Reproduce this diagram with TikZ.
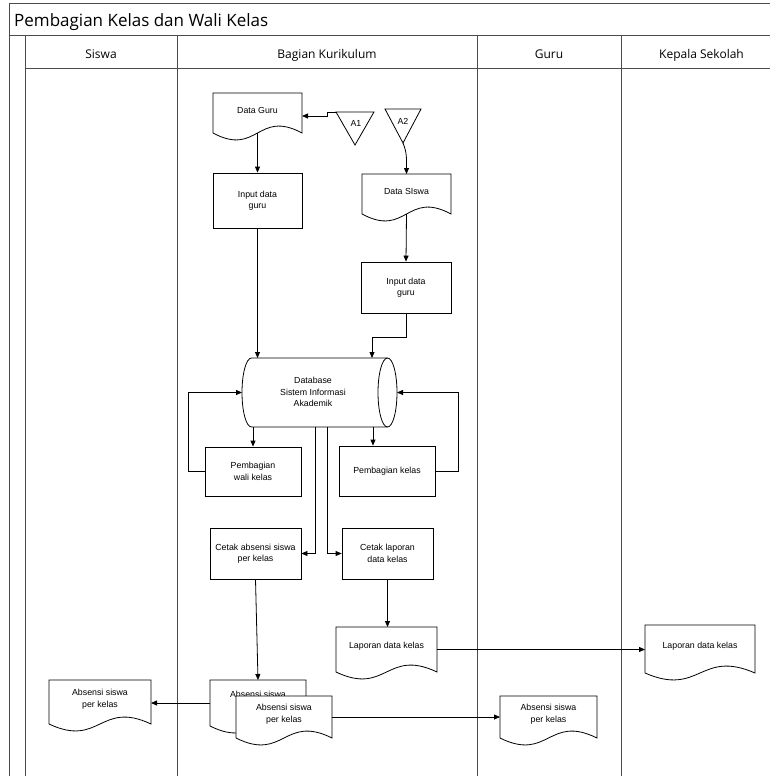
\documentclass[tikz,border=0pt]{standalone}
\usepackage{fontspec}
\setmainfont{Liberation Sans}
\newfontfamily\uifont{Open Sans}
\usetikzlibrary{arrows.meta,calc}
\newcommand\docshape[6]{%
  \path (#2,#3) node[geom, minimum width=#4pt, minimum height=#5pt] (#1) {};
  \draw[shp] (#1.south west) -- (#1.north west) -- (#1.north east) -- (#1.south east)
    .. controls ($(#1.south)+(0,-24)$) and ($(#1.south)+(0,24)$) .. (#1.south west) -- cycle;
  \node[doctext] (#1-t) at ($(#1.center)+(0,-3)$) {#6};
}
\begin{document}
\begin{tikzpicture}[x=1pt,y=-1pt,
  lane/.style={draw=black!70, line width=1pt},
  small/.style={font=\fontsize{8.8}{11.5}\selectfont},
  box/.style={draw, fill=white, line width=0.8pt, align=center, small, inner sep=0pt},
  geom/.style={draw=none, inner sep=0pt, outer sep=0pt},
  doctext/.style={align=center, small, inner sep=0pt},
  shp/.style={draw, fill=white, line width=0.8pt},
  arr/.style={draw, line width=0.8pt, -{Triangle[length=6pt,width=5pt]}},
  hdr/.style={font=\uifont\fontsize{12}{14}\selectfont, anchor=base, inner sep=0pt},
  ttl/.style={font=\uifont\fontsize{17}{20}\selectfont, anchor=base west, inner sep=0pt}
]
\useasboundingbox (0,0) rectangle (769,776);
% pool
\draw[lane] (9,4) rectangle (790,800);
\draw[lane] (9,36) -- (790,36);
\draw[lane] (25,69) -- (790,69);
\draw[lane] (25,36) -- (25,800);
\draw[lane] (177,36) -- (177,800);
\draw[lane] (477,36) -- (477,800);
\draw[lane] (621,36) -- (621,800);
\node[ttl] (title) at (14,27) {Pembagian Kelas dan Wali Kelas};
\node[hdr] (h1) at (101,59) {Siswa};
\node[hdr] (h2) at (327,59) {Bagian Kurikulum};
\node[hdr] (h3) at (549,59) {Guru};
\node[hdr] (h4) at (701.5,59) {Kepala Sekolah};

% off-page connectors
\node[geom, minimum width=38pt, minimum height=33pt] (a1) at (355,128.5) {};
\draw[shp] (a1.north west) -- (a1.north east) -- (a1.south) -- cycle;
\node[small, inner sep=0pt] (a1-t) at (356,123) {A1};
\node[geom, minimum width=36pt, minimum height=34pt] (a2) at (403,126) {};
\draw[shp] (a2.north west) -- (a2.north east) -- (a2.south) -- cycle;
\node[small, inner sep=0pt] (a2-t) at (403,121) {A2};

% documents
\docshape{dg}{257.5}{113}{89}{40}{Data Guru}
\docshape{ds}{406.5}{194}{89}{40}{Data SIswa}

% process boxes
\node[box, minimum width=89pt, minimum height=55pt] (in1) at (257.5,200.5) {Input data\\guru};
\node[box, minimum width=90pt, minimum height=51pt] (in2) at (406,287.5) {Input data\\guru};

% database
\node[geom, minimum width=155pt, minimum height=69pt] (db) at (319.5,392.5) {};
\draw[shp] ($(db.north west)+(9.5,0)$) -- ($(db.north east)+(-9.5,0)$)
  arc[start angle=90,end angle=-90,x radius=9.5pt,y radius=34.5pt]
  -- ($(db.south west)+(9.5,0)$)
  arc[start angle=270,end angle=90,x radius=9.5pt,y radius=34.5pt] -- cycle;
\draw[line width=0.8pt] ($(db.north east)+(-9.5,0)$)
  arc[start angle=90,end angle=270,x radius=9.5pt,y radius=34.5pt];
\node[small, align=center, inner sep=0pt] (db-t) at (313,392) {Database\\Sistem Informasi\\Akademik};

\node[box, minimum width=96pt, minimum height=49pt] (pwk) at (253,471.5) {Pembagian\\wali kelas};
\node[box, minimum width=96pt, minimum height=50pt] (pk) at (387,471) {Pembagian kelas};
\node[box, minimum width=91pt, minimum height=51pt] (cas) at (255.5,553.5) {Cetak absensi siswa\\per kelas};
\node[box, minimum width=91pt, minimum height=51pt] (cld) at (387.5,553.5) {Cetak laporan\\data kelas};

\docshape{lap}{386.5}{649.5}{101}{45}{Laporan data kelas}
\docshape{kep}{700}{649}{110}{48}{Laporan data kelas}
\docshape{sis}{100}{702}{102}{44}{Absensi siswa\\per kelas}
\docshape{abs1}{258}{703}{96}{46}{}
\node[doctext] (abs1-t) at (258,694) {Absensi siswa};
\docshape{abs2}{284}{717}{96}{42}{Absensi siswa\\per kelas}
\docshape{gdoc}{548.5}{717}{97}{42}{Absensi siswa\\per kelas}

% connectors
\draw[arr] (a1.north west) -- ++(-9,0) |- ([yshift=-3pt]dg.east);
\draw[arr] (a2.south) .. controls ($(a2.south)+(4,10)$) and ($(ds.north)+(0,-16)$) .. (ds.north);
\draw[arr] (dg.south) -- (in1.north);
\draw[arr] (ds.south) -- (in2.north);
\draw[arr] (in1.south) -- (in1.south |- db.north);
\draw[arr] (in2.south) -- ++(0,24) -| ([xshift=52.5pt]db.north);
\draw[arr] (pwk.north |- db.south) -- (pwk.north);
\draw[arr] (pwk.west) -- ++(-16,0) |- (db.west);
\draw[arr] ([xshift=53.5pt]db.south) -- ([xshift=53.5pt]db.south |- pk.north);
\draw[arr] (pk.east) -- ++(23,0) |- (db.east);
\draw[arr] ([xshift=-4.5pt]db.south) |- (cas.east);
\draw[arr] ([xshift=7.5pt]db.south) |- (cld.west);
\draw[arr] (cld.south) -- (cld.south |- lap.north);
\draw[arr] (lap.east) -- (lap.east -| kep.west);
\draw[arr] (cas.south) -- (abs1.north);
\draw[arr] (abs1.west) -- (abs1.west -| sis.east);
\draw[arr] (abs2.east) -- (gdoc.west);
\end{tikzpicture}
\end{document}
